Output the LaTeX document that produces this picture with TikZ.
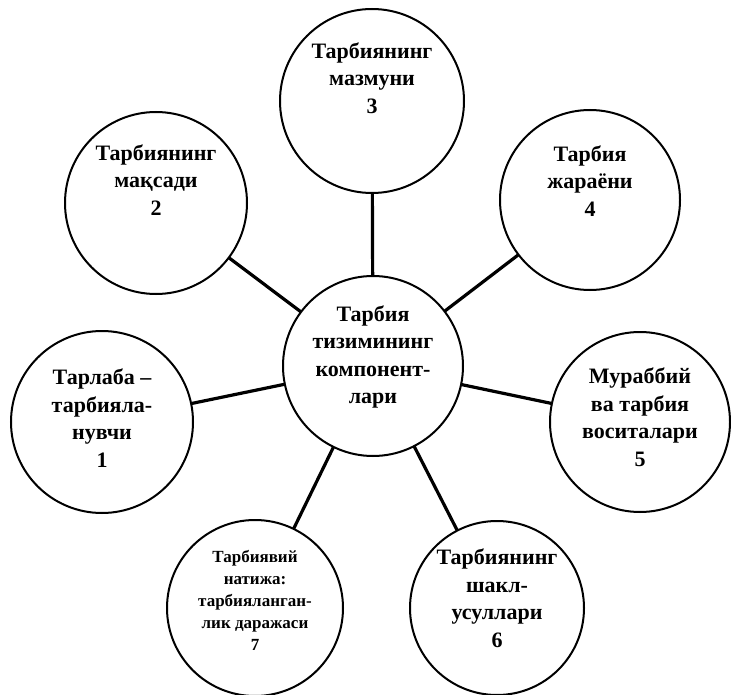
\documentclass[tikz,border=0pt]{standalone}
\usepackage{fontspec}
\setmainfont{Liberation Serif}
\usepackage{tikz}
\usetikzlibrary{positioning}

\begin{document}
\begin{tikzpicture}[
  x=1pt, y=-1pt,
  comp/.style={draw, circle, line width=2pt, inner sep=0pt, fill=white},
  txt/.style={align=center, font=\fontsize{22}{27.5}\selectfont\bfseries, inner sep=0pt},
  link/.style={line width=3.2pt},
]
\useasboundingbox (0,0) rectangle (731,695);

% spokes first, circles drawn on top of them
\coordinate (cc) at (373,366);
\coordinate (p1) at (102,422);
\coordinate (p2) at (156,203);
\coordinate (p3) at (372,101);
\coordinate (p4) at (590,200);
\coordinate (p5) at (640,422);
\coordinate (p6) at (497,608);
\coordinate (p7) at (255,608);
\foreach \k in {1,...,7}
  \draw[link] (cc) -- (p\k);

% circles
\node[comp, minimum size=180pt] (c)  at (cc) {};
\node[comp, minimum size=182pt] (n1) at (p1) {};
\node[comp, minimum size=182pt] (n2) at (p2) {};
\node[comp, minimum size=184pt] (n3) at (p3) {};
\node[comp, minimum size=180pt] (n4) at (p4) {};
\node[comp, minimum size=180pt] (n5) at (p5) {};
\node[comp, minimum size=174pt] (n6) at (p6) {};
\node[comp, minimum size=176pt] (n7) at (p7) {};

% texts (sit a bit above the middle)
\node[txt] (tc) at (373,357) {Тарбия\\тизимининг\\компонент-\\лари};
\node[txt] (t1) at (102,418) {Тарлаба –\\тарбияла-\\нувчи\\1};
\node[txt] (t2) at (156,180) {Тарбиянинг\\мақсади\\2};
\node[txt] (t3) at (372,78)  {Тарбиянинг\\мазмуни\\3};
\node[txt] (t4) at (590,181) {Тарбия\\жараёни\\4};
\node[txt] (t5) at (640,417) {Мураббий\\ва тарбия\\воситалари\\5};
\node[txt] (t6) at (497,598) {Тарбиянинг\\шакл-\\усуллари\\6};
\node[txt, font=\fontsize{17}{22}\selectfont\bfseries] (t7) at (255,600)
  {Тарбиявий\\натижа:\\тарбияланган-\\лик даражаси\\7};
\end{tikzpicture}
\end{document}
